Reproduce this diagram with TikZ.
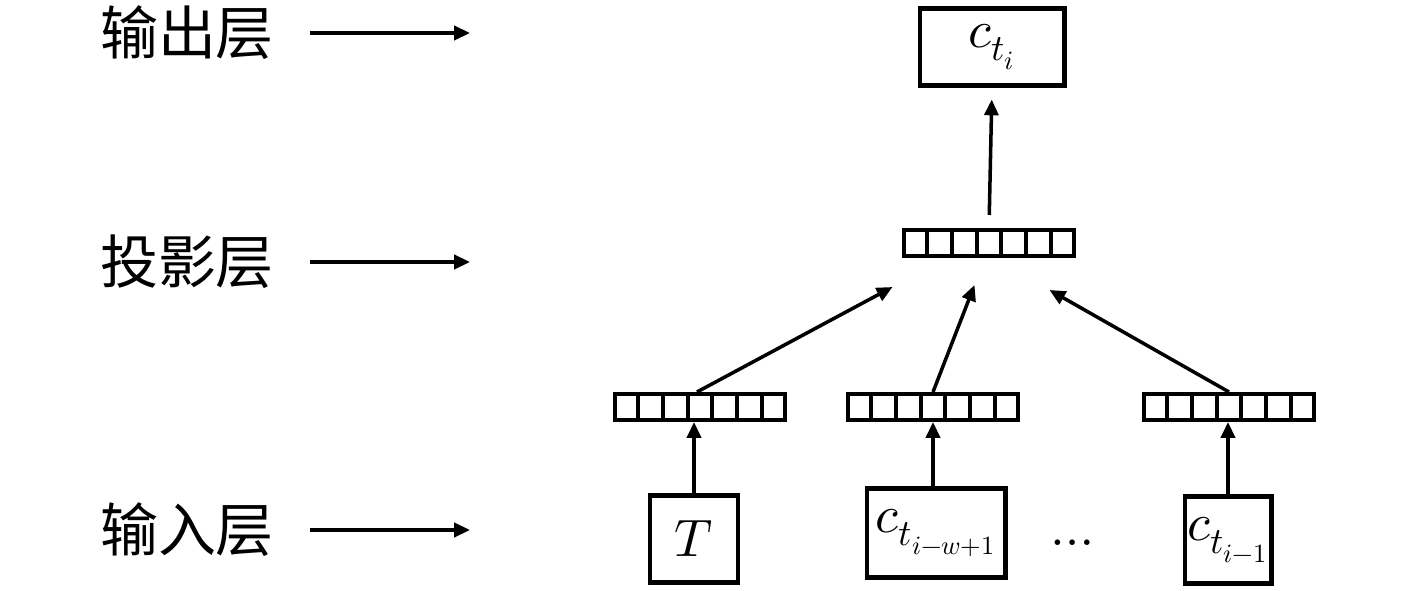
\documentclass[tikz,border=0pt]{standalone}
\usepackage{fontspec}
\usepackage{unicode-math}
\newfontfamily\cjk{Noto Sans CJK SC}
\usetikzlibrary{positioning,arrows.meta,calc}

\begin{document}
\begin{tikzpicture}[
        x=0.02cm, y=-0.02cm,
        >={Triangle[length=9pt,width=8pt]},
        layer/.style={font=\cjk\fontsize{33}{38}\selectfont, inner sep=0pt},
        box/.style={draw, rectangle, line width=2.3pt, inner sep=1pt, font=\fontsize{30}{36}\selectfont},
        vec/.style={draw, rectangle, line width=2.3pt, minimum width=3.4cm, minimum height=0.52cm, inner sep=0pt},
        cell/.style={line width=2.3pt},
        link/.style={->, line width=2pt}
    ]
    \useasboundingbox (0,0) rectangle (1417,591);

    % Layer names
    \node[layer] (lout) at (187,33)  {输出层};
    \node[layer] (lproj) at (187,262) {投影层};
    \node[layer] (lin) at (187,530)  {输入层};
    \coordinate (tout) at (470,33);
    \coordinate (tproj) at (470,262);
    \coordinate (tin) at (470,530);

    % Boxes
    \node[box, minimum width=2.9cm, minimum height=1.54cm] (out) at (992,47) {$c_{t_i}$};
    \node[box, minimum width=1.76cm, minimum height=1.74cm] (inT) at (694,539) {$T$};
    \node[box, minimum width=2.78cm, minimum height=1.78cm] (inw) at (936,533) {$c_{t_{i-w+1}}$};
    \node[box, minimum width=1.74cm, minimum height=1.74cm] (inl) at (1228,540) {$c_{t_{i-1}}$};
    \node[inner sep=0pt, font=\fontsize{30}{36}\selectfont] (dots) at (1073,543) {$\ldots$};

    % Vectors
    \node[vec] (proj) at (989,243) {};
    \node[vec] (v1) at (700,407) {};
    \node[vec] (v2) at (933,407) {};
    \node[vec] (v3) at (1229,407) {};
    \foreach \v in {proj,v1,v2,v3}
        \foreach \k in {1,...,6}
            \draw[cell] ($(\v.north west)!\k/7!(\v.north east)$) -- ($(\v.south west)!\k/7!(\v.south east)$);

    % Arrows
    \draw[link] ([xshift=0.72cm]lout.east) -- (tout);
    \draw[link] ([xshift=0.72cm]lproj.east) -- (tproj);
    \draw[link] ([xshift=0.72cm]lin.east) -- (tin);
    \draw[link] (inT.north) -- (inT.north |- v1.south);
    \draw[link] (inw.north -| v2.south) -- (v2.south);
    \draw[link] (inl.north) -- (inl.north |- v3.south);
    \draw[link] ([xshift=-0.06cm]v1.north) -- ([xshift=-1.93cm,yshift=-0.58cm]proj.south);
    \draw[link] (v2.north) -- ([xshift=-0.29cm,yshift=-0.54cm]proj.south);
    \draw[link] (v3.north) -- ([xshift=1.21cm,yshift=-0.64cm]proj.south);
    \draw[link, shorten <=0.26cm, shorten >=0.24cm] (proj.north) -- (out.south);
\end{tikzpicture}
\end{document}
